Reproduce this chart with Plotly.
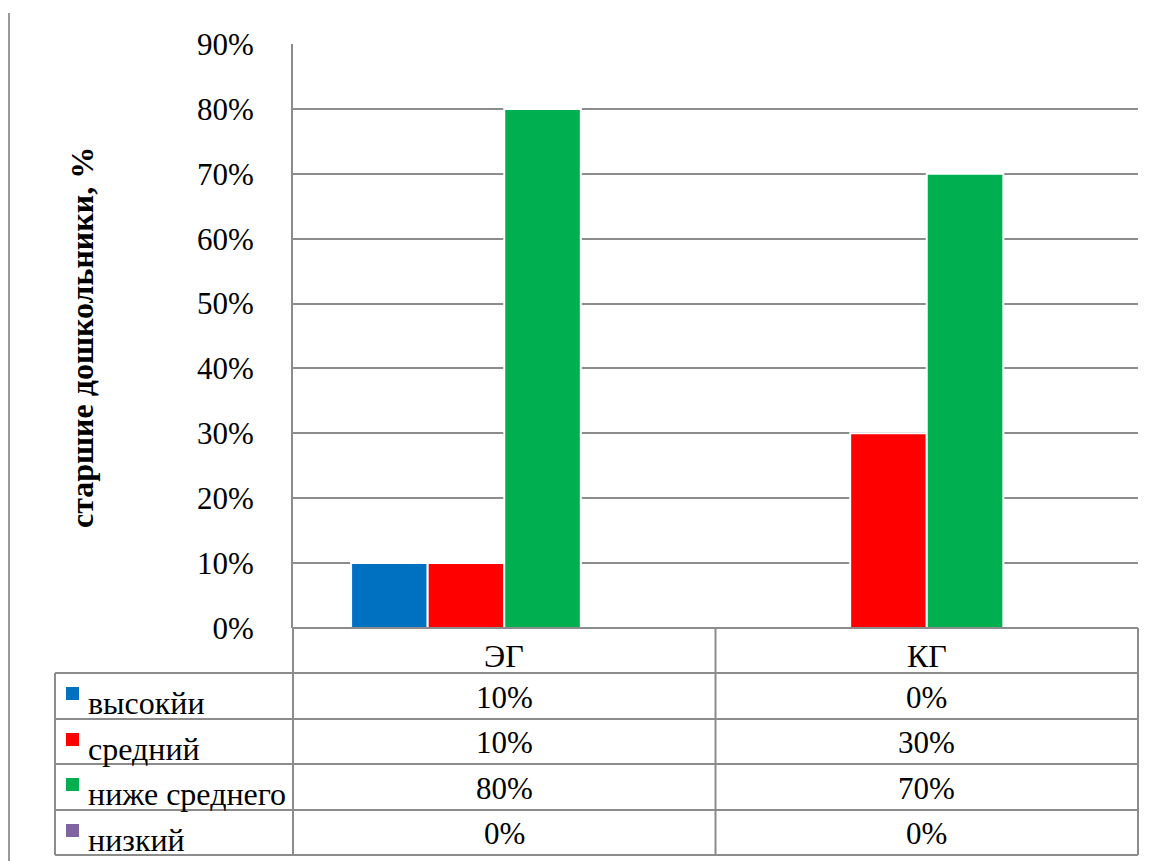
import plotly.graph_objects as go

categories = ["ЭГ", "КГ"]
series_names = ["высокйи", "средний", "ниже среднего", "низкий"]
series_values = {
    "высокйи": [10, 0],
    "средний": [10, 30],
    "ниже среднего": [80, 70],
    "низкий": [0, 0],
}
series_colors = ["#0070C0", "#FF0000", "#00B050", "#8064A2"]
y_ticks = [0, 10, 20, 30, 40, 50, 60, 70, 80, 90]
y_title = "старшие дошкольники, %"

W, H = 1157, 861
L, R, T, B = 293, 1138, 44, 628
FONT = "Liberation Serif"
GRID = "#8c8c8c"
NUM_SIZE = 31
LBL_SIZE = 32


def px(x):
    return (x - L) / (R - L)


def py(y):
    return (B - y) / (B - T)


fig = go.Figure()
for name, color in zip(series_names, series_colors):
    fig.add_trace(go.Bar(
        x=categories, y=series_values[name], name=name,
        marker=dict(color=color, line=dict(color="white", width=2)),
        showlegend=False,
    ))

shapes = []
def line(x0, y0, x1, y1, w=2, c=GRID):
    shapes.append(dict(type="line", xref="paper", yref="paper",
                       x0=px(x0), y0=py(y0), x1=px(x1), y1=py(y1),
                       line=dict(color=c, width=w), layer="above"))

# chart border (left)
line(9, 13, 9, 861, 2, "#9a9a9a")
# table grid
rows = [628, 673, 719, 764, 810, 855]
line(L, rows[0], R, rows[0])
for yv in rows[1:]:
    line(55, yv, R, yv)
line(55, rows[1], 55, rows[-1])
line(L, rows[0], L, rows[-1])
mid = (L + R) / 2
line(mid, rows[0], mid, rows[-1])
line(R, rows[0], R, rows[-1])

annotations = []
cat_centers = [(L + mid) / 2, (mid + R) / 2]
for c, xc in zip(categories, cat_centers):
    annotations.append(dict(text=c, x=px(xc), y=py(656), xref="paper", yref="paper",
                            showarrow=False, xanchor="center", yanchor="middle",
                            font=dict(family=FONT, size=LBL_SIZE, color="black")))
for i, (name, color) in enumerate(zip(series_names, series_colors)):
    top = rows[i + 1]
    bottom = rows[i + 2]
    # legend key
    shapes.append(dict(type="rect", xref="paper", yref="paper",
                       x0=px(66), x1=px(79), y0=py(top + 14), y1=py(top + 27),
                       fillcolor=color, line=dict(width=0), layer="above"))
    annotations.append(dict(text=name, x=px(86), y=py(top + 30), xref="paper", yref="paper",
                            showarrow=False, xanchor="left", yanchor="middle",
                            font=dict(family=FONT, size=LBL_SIZE, color="black")))
    for j, xc in enumerate(cat_centers):
        annotations.append(dict(text=f"{series_values[name][j]}%", x=px(xc),
                                y=py((top + bottom) / 2 + 1), xref="paper", yref="paper",
                                showarrow=False, xanchor="center", yanchor="middle",
                                font=dict(family=FONT, size=NUM_SIZE, color="black")))

annotations.append(dict(text=f"<b>{y_title}</b>", x=px(82), y=py(338), xref="paper", yref="paper",
                        showarrow=False, textangle=-90, xanchor="center", yanchor="middle",
                        font=dict(family=FONT, size=LBL_SIZE, color="black")))

fig.update_layout(
    width=W, height=H,
    margin=dict(l=L, r=W - R, t=T, b=H - B),
    paper_bgcolor="white", plot_bgcolor="white",
    barmode="group", bargap=0.275, bargroupgap=0,
    shapes=shapes, annotations=annotations,
    xaxis=dict(showticklabels=False, showgrid=False, zeroline=False, showline=False),
    yaxis=dict(range=[0, 90], tickvals=y_ticks, ticktext=[f"{v}%" for v in y_ticks],
               showgrid=True, gridcolor=GRID, gridwidth=2, zeroline=False,
               showline=True, linecolor=GRID, linewidth=2,
               ticks="", ticklabelstandoff=31,
               tickfont=dict(family=FONT, size=NUM_SIZE, color="black")),
)

fig.write_html("out.html", config={"displayModeBar": False},
               post_script="document.body.style.margin='0';document.body.style.overflow='hidden';")
